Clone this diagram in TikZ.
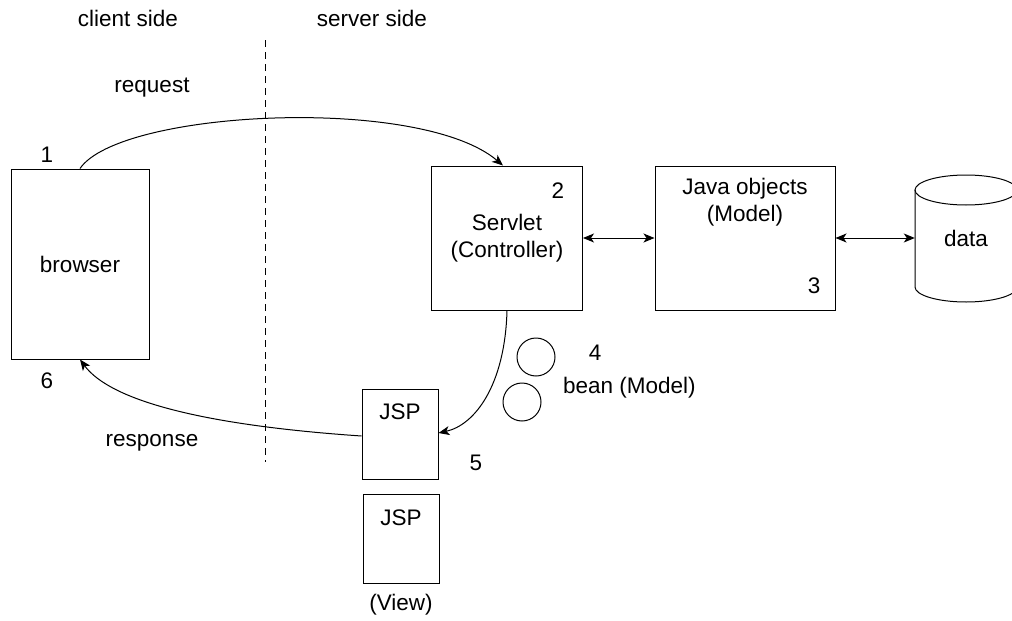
\documentclass[tikz,border=0pt]{standalone}
\usepackage{fontspec}
\setmainfont{Liberation Sans}
\usetikzlibrary{arrows.meta}
\begin{document}
\begin{tikzpicture}[x=1pt,y=-1pt,
  every node/.style={font=\fontsize{22.5}{27}\selectfont, inner sep=0pt},
  box/.style={draw, line width=1pt},
  lbl/.style={},
  conn/.style={line width=1pt, -{Stealth[length=11pt,width=9pt,inset=3pt]}},
  dconn/.style={line width=1pt, {Stealth[length=11pt,width=9pt,inset=3pt]}-{Stealth[length=11pt,width=9pt,inset=3pt]}},
]
\useasboundingbox (0,0) rectangle (1012,621);
% headings
\node[lbl] (client) at (128,18) {client side};
\node[lbl] (server) at (372,18) {server side};
\coordinate (dtop) at (265,40);
\coordinate (dbot) at (265,462);
\draw[line width=1pt, dash pattern=on 7pt off 5pt] (dtop) -- (dbot);
% boxes
\node[box, minimum width=138pt, minimum height=190pt] (browser) at (80,264) {browser};
\node[box, minimum width=151pt, minimum height=144pt, align=center] (servlet) at (507,238) {Servlet\\(Controller)};
\node[box, minimum width=180pt, minimum height=144pt] (java) at (745,238) {};
\node[lbl, align=center] (javat) at (745,202) {Java objects\\(Model)};
\node[box, minimum width=76pt, minimum height=90pt] (jsp1) at (400,434) {};
\node[lbl] (jsp1t) at (400,412) {JSP};
\node[box, minimum width=76pt, minimum height=89pt] (jsp2) at (401,539) {};
\node[lbl] (jsp2t) at (401,518) {JSP};
\node[lbl] (view) at (401,605) {(View)};
% data cylinder
\node[minimum width=102pt, minimum height=127pt] (data) at (966,238) {data};
\draw[line width=1pt] (966,190) ellipse [x radius=51pt, y radius=15pt];
\draw[line width=1pt] (915,190) -- (915,287) arc [start angle=180, end angle=360, x radius=51pt, y radius=15pt] -- (1017,190);
% beans
\node[draw, line width=1pt, circle, minimum size=38pt] (bean1) at (536,357) {};
\node[draw, line width=1pt, circle, minimum size=38pt] (bean2) at (522,402) {};
\node[lbl, anchor=west] (beant) at (563,388) {bean (Model)};
% numbers
\node[lbl] (n1) at (47,155) {1};
\node[lbl] (n2) at (558,191) {2};
\node[lbl] (n3) at (814,286) {3};
\node[lbl] (n4) at (595,353) {4};
\node[lbl] (n5) at (476,463) {5};
\node[lbl] (n6) at (47,381) {6};
\node[lbl] (req) at (152,88) {request};
\node[lbl] (resp) at (152,443) {response};
% connectors
\draw[conn] (browser.north) .. controls (120,110) and (420,95) .. (servlet.north -| 503,0);
\draw[dconn] (servlet.east) -- (java.west);
\draw[dconn] (java.east) -- (data.west);
\draw[conn] (servlet.south) .. controls (505,385) and (475,425) .. (jsp1.east |- 0,433);
\draw[conn] (jsp1.west |- 0,436) .. controls (200,425) and (110,400) .. (browser.south);
\end{tikzpicture}
\end{document}
